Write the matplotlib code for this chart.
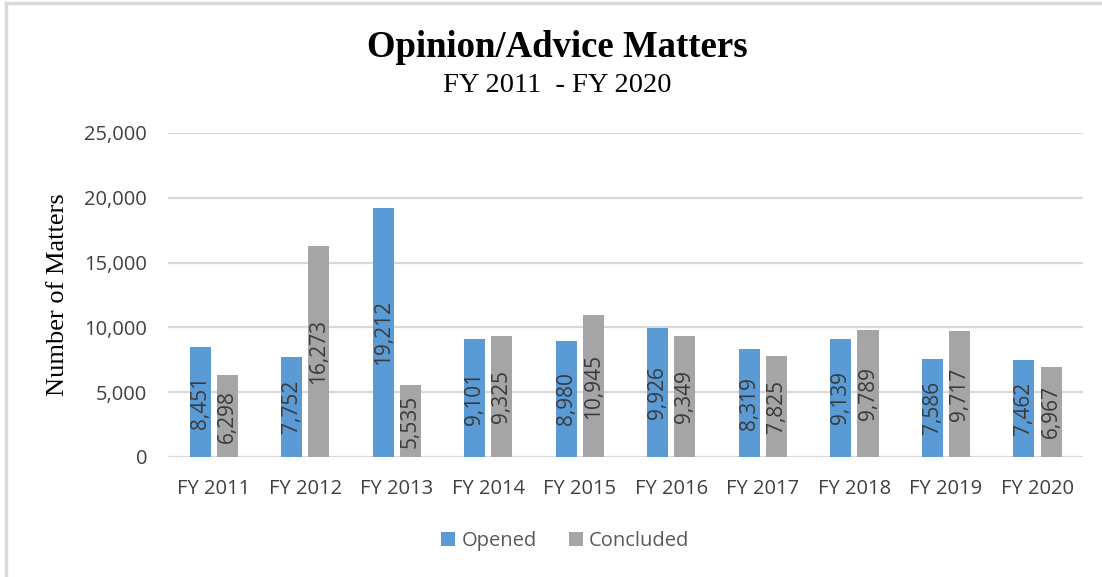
import numpy as np
import matplotlib.pyplot as plt
from matplotlib.lines import Line2D
from matplotlib.ticker import FuncFormatter

# Data
years = ['FY 2011', 'FY 2012', 'FY 2013', 'FY 2014', 'FY 2015',
         'FY 2016', 'FY 2017', 'FY 2018', 'FY 2019', 'FY 2020']
opened = [8451, 7752, 19212, 9101, 8980, 9926, 8319, 9139, 7586, 7462]
concluded = [6298, 16273, 5535, 9325, 10945, 9349, 7825, 9789, 9717, 6967]

blue = '#5b9bd5'
grey = '#a5a5a5'
txt = '#404040'
sans = 'Open Sans'
serif = 'Liberation Serif'

fig = plt.figure(figsize=(11.02, 5.77), dpi=100)
ax = fig.add_axes([0.1525, 0.208, 0.8305, 0.5615])

x = np.arange(len(years))
w = 0.23
off = 0.148
b1 = ax.bar(x - off, opened, w, color=blue, label='Opened', zorder=3)
b2 = ax.bar(x + off, concluded, w, color=grey, label='Concluded', zorder=3)

for bars in (b1, b2):
    ax.bar_label(bars, labels=[f'{v:,}' for v in bars.datavalues],
                 label_type='center', rotation=90, color='#3a3a3a',
                 fontsize=15, family=sans)

ax.set_xlim(-0.5, len(years) - 0.5)
ax.set_ylim(0, 25000)
ax.set_yticks(range(0, 25001, 5000))
ax.yaxis.set_major_formatter(FuncFormatter(lambda v, p: f'{int(v):,}'))
ax.set_xticks(x)
ax.set_xticklabels(years)
ax.grid(axis='y', color='#d9d9d9', linewidth=1.6, zorder=0)
for s in ax.spines.values():
    s.set_visible(False)
ax.tick_params(length=0, labelsize=14.5, labelcolor=txt)
ax.tick_params(axis='x', pad=16)
ax.tick_params(axis='y', pad=15)
for lbl in ax.get_xticklabels() + ax.get_yticklabels():
    lbl.set_family(sans)

ax.set_ylabel('Number of Matters', family=serif, fontsize=19, labelpad=11)

fig.text(0.506, 0.917, 'Opinion/Advice Matters', ha='center', va='center',
         family=serif, fontweight='bold', fontsize=26.5)
fig.text(0.506, 0.852, 'FY 2011  - FY 2020', ha='center', va='center',
         family=serif, fontsize=20.5)

fig.legend(handles=[b1, b2], labels=['Opened', 'Concluded'],
           loc='center', bbox_to_anchor=(0.513, 0.062), ncol=2, frameon=False,
           prop={'family': sans, 'size': 14.5}, labelcolor='#595959',
           handlelength=0.7, handleheight=0.7, handletextpad=0.3,
           columnspacing=1.6)

# light frame on top and left edge
fig.add_artist(Line2D([0.005, 0.005], [0, 0.995], color='#d9d9d9', lw=2.5))
fig.add_artist(Line2D([0.005, 1], [0.995, 0.995], color='#d9d9d9', lw=2.5))

fig.savefig('out.png', dpi=100)
